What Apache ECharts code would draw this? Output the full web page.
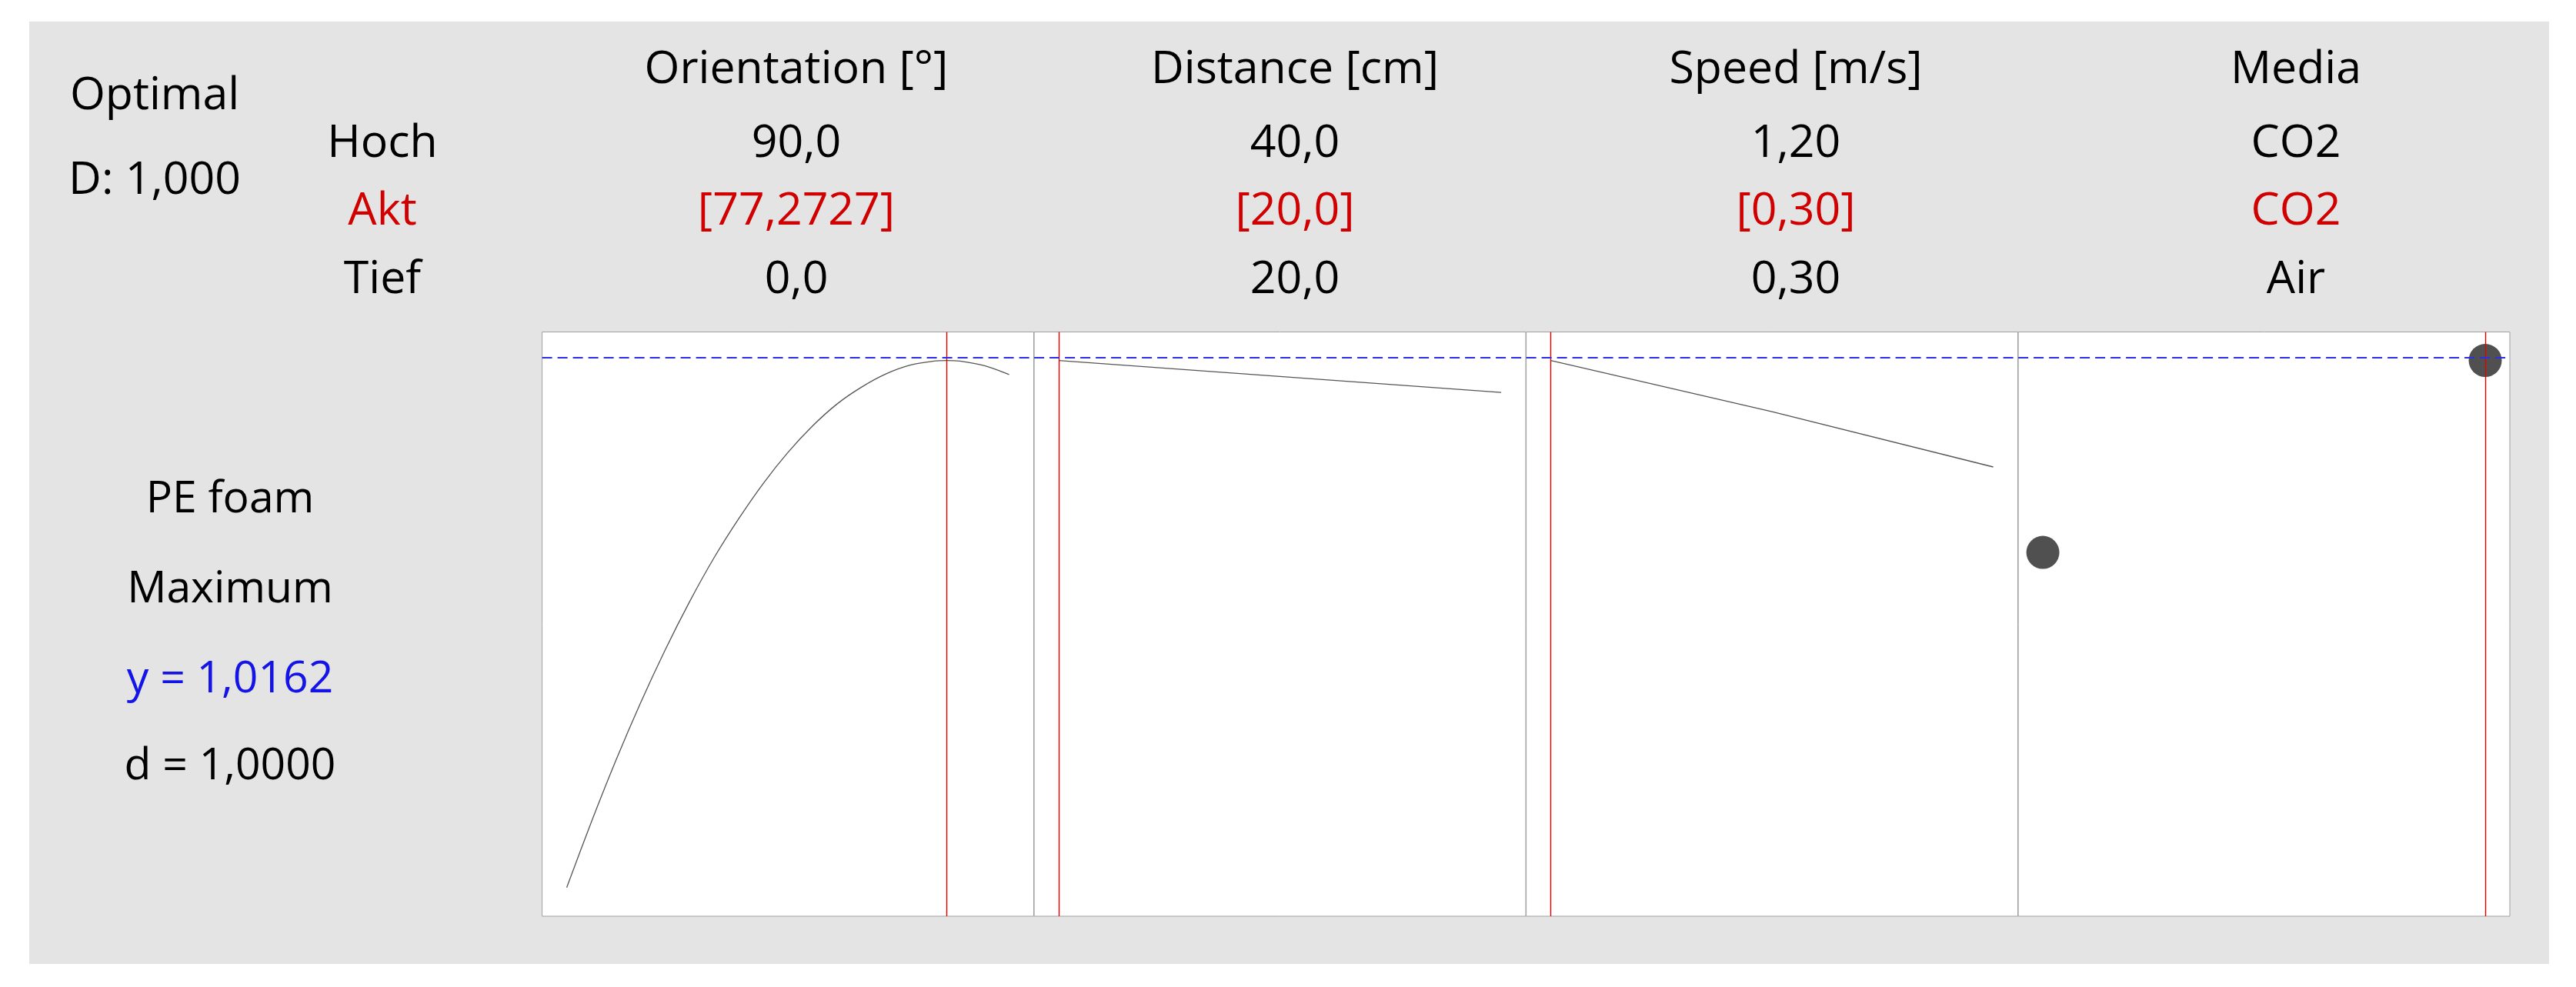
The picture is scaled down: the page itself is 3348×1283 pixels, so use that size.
<!DOCTYPE html>
<html>
<head>
<meta charset="utf-8">
<script src="https://cdn.jsdelivr.net/npm/echarts@6/dist/echarts.min.js"></script>
<style>
  html, body { margin: 0; padding: 0; background: #ffffff; }
  #bg { position: absolute; left: 38px; top: 28px; width: 3275px; height: 1225px; background: #e4e4e4; }
  #chart { position: absolute; left: 0; top: 0; width: 3348px; height: 1283px; }
</style>
</head>
<body>
<div id="bg"></div>
<div id="chart"></div>
<script>
// ---------------- data ----------------
const factorNames   = ['Orientation [°]', 'Distance [cm]', 'Speed [m/s]', 'Media'];
const highLabels    = ['90,0', '40,0', '1,20', 'CO2'];
const currentLabels = ['[77,2727]', '[20,0]', '[0,30]', 'CO2'];
const lowLabels     = ['0,0', '20,0', '0,30', 'Air'];
const rowLabels     = ['Hoch', 'Akt', 'Tief'];
const optimalLabels = ['Optimal', 'D: 1,000'];
const responseLabels = ['PE foam', 'Maximum', 'y = 1,0162', 'd = 1,0000'];

const optimumY = 1.0162;
const currentSettings = [77.2727, 20.0, 0.30, 1];   // Media: 0 = Air, 1 = CO2

const orientationX = [0, 5, 10, 15, 20, 25, 30, 35, 40, 45, 50, 55, 60, 65, 70, 75, 77.2727, 80, 85, 90];
const orientationY = [0.299, 0.388, 0.472, 0.550, 0.622, 0.688, 0.748, 0.801, 0.849, 0.891, 0.927, 0.957, 0.980, 0.998, 1.010, 1.0156, 1.0162, 1.0153, 1.009, 0.997];

const distanceX = [20, 30, 40];
const distanceY = [1.0162, 0.9945, 0.9728];

const speedX = [0.30, 0.75, 1.20];
const speedY = [1.0162, 0.9466, 0.8713];

const mediaCategories = ['Air', 'CO2'];
const mediaY = [0.755, 1.0162];

const xRanges = [[-5, 95], [18.889, 41.111], [0.25, 1.25], [-0.0556, 1.0556]];
const yRange = [0.26, 1.055];

// ---------------- layout ----------------
const gridLefts = [704.6, 1344.1, 1983.6, 2623.1];
const gridWidth = 638.9;
const gridTop = 431.5;
const gridHeight = 759.5;
const colCenters = [1035, 1683, 2334, 2984];
const FONT = '"Open Sans", "Noto Sans", sans-serif';

const zip = (xs, ys) => xs.map((x, i) => [x, ys[i]]);

const grids = gridLefts.map(l => ({
  left: l, top: gridTop, width: gridWidth, height: gridHeight,
  show: true, backgroundColor: '#ffffff', borderColor: '#a0a0a0', borderWidth: 1
}));
const xAxes = xRanges.map((r, i) => ({
  type: 'value', gridIndex: i, min: r[0], max: r[1], show: false
}));
const yAxes = xRanges.map((r, i) => ({
  type: 'value', gridIndex: i, min: yRange[0], max: yRange[1], show: false
}));

function marks(i) {
  return {
    symbol: 'none', silent: true, label: { show: false }, animation: false,
    z: 6,
    data: [
      { xAxis: currentSettings[i], lineStyle: { color: '#e00000', width: 1.4, type: 'solid' } },
      { yAxis: optimumY, lineStyle: { color: '#2e2ee6', width: 2.2, type: [13, 7] } }
    ]
  };
}

const curveStyle = { color: '#555555', width: 1.3 };
const series = [
  { type: 'line', xAxisIndex: 0, yAxisIndex: 0, data: zip(orientationX, orientationY), smooth: 0.3,
    showSymbol: false, lineStyle: curveStyle, markLine: marks(0), animation: false },
  { type: 'line', xAxisIndex: 1, yAxisIndex: 1, data: zip(distanceX, distanceY),
    showSymbol: false, lineStyle: curveStyle, markLine: marks(1), animation: false },
  { type: 'line', xAxisIndex: 2, yAxisIndex: 2, data: zip(speedX, speedY),
    showSymbol: false, lineStyle: curveStyle, markLine: marks(2), animation: false },
  { type: 'scatter', xAxisIndex: 3, yAxisIndex: 3,
    data: mediaCategories.map((c, i) => ({ name: c, value: [i, mediaY[i]] })),
    symbolSize: 43, itemStyle: { color: '#505050', opacity: 1 }, markLine: marks(3), animation: false }
];

// ---------------- texts ----------------
function txt(text, x, y, size, color) {
  return {
    type: 'text', x: x, y: y, silent: true,
    style: { text: text, fontSize: size, fontFamily: FONT, fill: color || '#000000',
             align: 'center', verticalAlign: 'middle' }
  };
}
const graphics = [];
const rowY = [187, 275, 364];
const headY = 91;
factorNames.forEach((n, i) => graphics.push(txt(n, colCenters[i], headY, 59)));
highLabels.forEach((n, i) => graphics.push(txt(n, colCenters[i], rowY[0], 59)));
currentLabels.forEach((n, i) => graphics.push(txt(n, colCenters[i], rowY[1], 59, '#d00000')));
lowLabels.forEach((n, i) => graphics.push(txt(n, colCenters[i], rowY[2], 59)));
rowLabels.forEach((n, i) => graphics.push(txt(n, 497, rowY[i], 59, i === 1 ? '#d00000' : '#000000')));
graphics.push(txt(optimalLabels[0], 201, 125, 59));
graphics.push(txt(optimalLabels[1], 201, 235, 59));
const respY = [650, 767, 884, 997];
responseLabels.forEach((n, i) => graphics.push(txt(n, 299, respY[i], 57, i === 2 ? '#1414e6' : '#000000')));

const chart = echarts.init(document.getElementById('chart'), null, { renderer: 'canvas' });
chart.setOption({
  backgroundColor: 'transparent',
  animation: false,
  grid: grids,
  xAxis: xAxes,
  yAxis: yAxes,
  series: series,
  graphic: { elements: graphics }
});
</script>
</body>
</html>
